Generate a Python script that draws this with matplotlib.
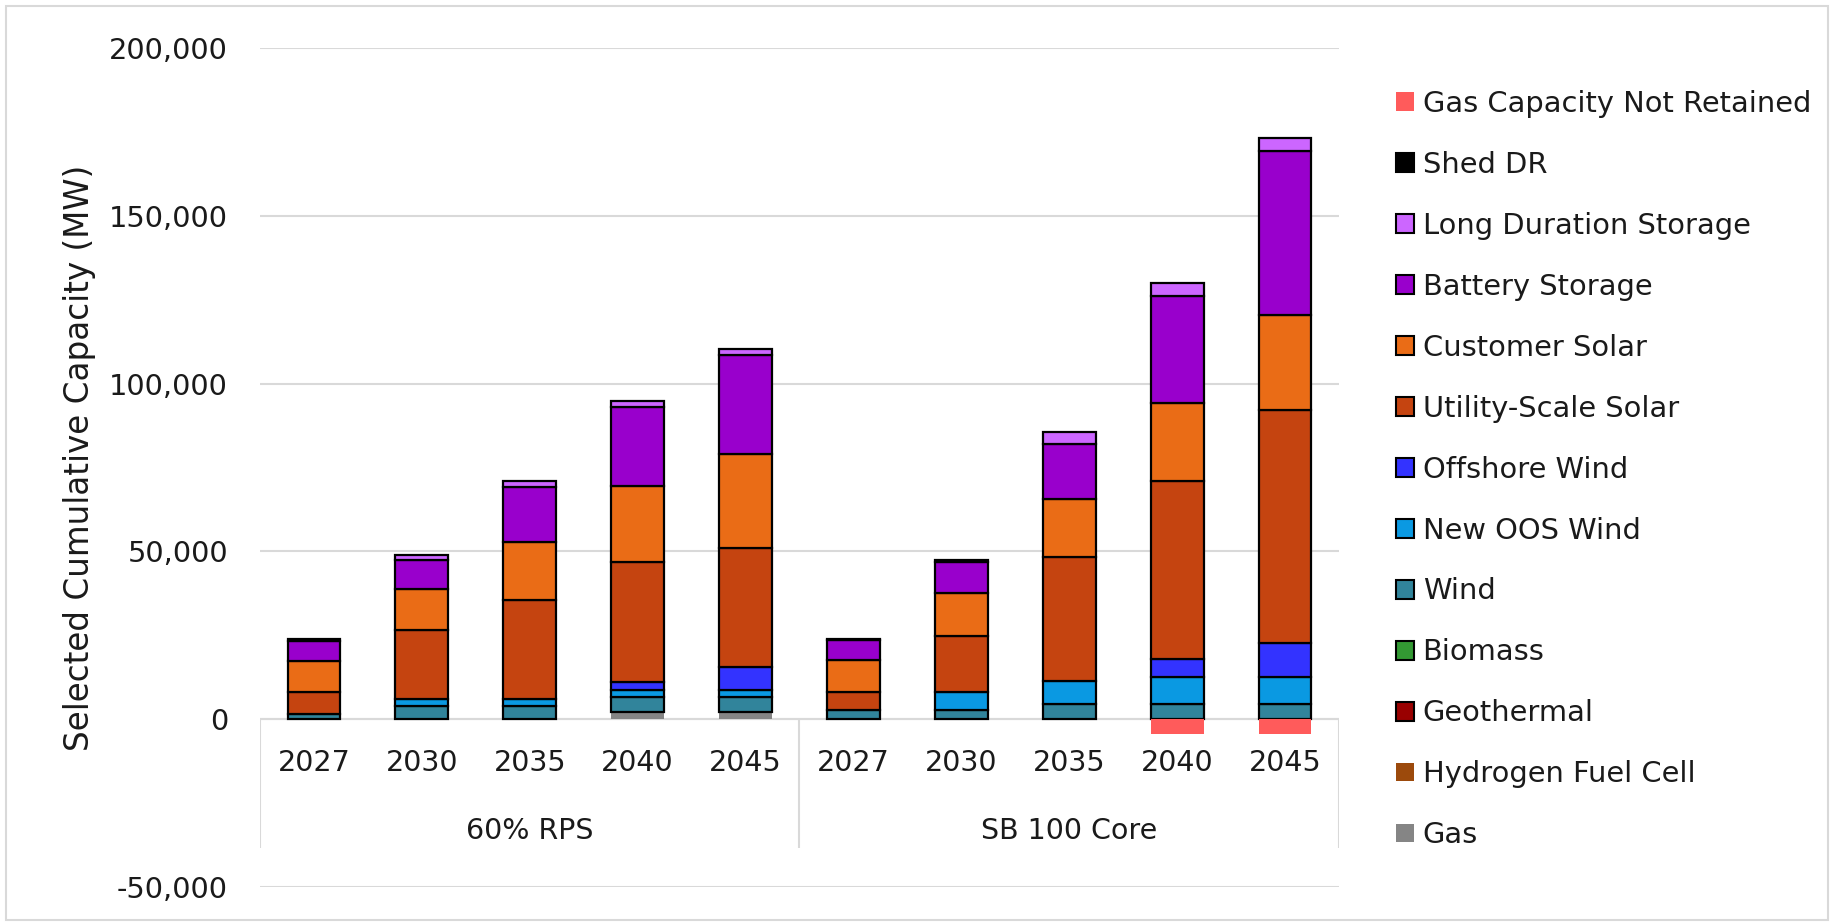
import matplotlib
matplotlib.use("Agg")
import matplotlib.pyplot as plt
from matplotlib.patches import Patch, Rectangle
import numpy as np

plt.rcParams['font.family'] = ['DejaVu Sans']

# ---------------- data ----------------
scenarios = ["60% RPS", "SB 100 Core"]
years = ["2027", "2030", "2035", "2040", "2045"]

gas              = [0, 0, 0, 2200, 2200,   0, 0, 0, 0, 0]
hydrogen         = [0, 0, 0, 0, 0,         0, 0, 0, 0, 0]
geothermal       = [0, 0, 0, 0, 0,         0, 0, 0, 0, 0]
biomass          = [0, 0, 0, 0, 0,         0, 0, 0, 0, 0]
wind             = [1600, 3900, 3900, 4400, 4400,   2700, 2800, 4400, 4400, 4400]
new_oos_wind     = [0, 2200, 2200, 2000, 2000,      0, 5300, 7100, 8200, 8200]
offshore_wind    = [0, 0, 0, 2500, 6900,            0, 0, 0, 5300, 10000]
utility_solar    = [6600, 20400, 29300, 35800, 35500,   5500, 16800, 36700, 53200, 69600]
customer_solar   = [9000, 12300, 17500, 22600, 28100,   9300, 12600, 17400, 23000, 28200]
battery          = [6000, 8600, 16300, 23500, 29300,    6100, 9200, 16500, 32000, 48800]
long_duration    = [0, 1400, 1800, 1800, 1800,          0, 0, 3600, 3900, 4100]
shed_dr          = [800, 0, 0, 0, 0,                    300, 800, 0, 0, 0]
gas_not_retained = [0, 0, 0, 0, 0,                      0, 0, 0, -4500, -4500]

series = [
    ("Gas", gas, "#858585", False),
    ("Hydrogen Fuel Cell", hydrogen, "#9C4A0C", False),
    ("Geothermal", geothermal, "#990000", True),
    ("Biomass", biomass, "#339933", True),
    ("Wind", wind, "#31849B", True),
    ("New OOS Wind", new_oos_wind, "#0A99E2", True),
    ("Offshore Wind", offshore_wind, "#3333FF", True),
    ("Utility-Scale Solar", utility_solar, "#C54410", True),
    ("Customer Solar", customer_solar, "#EA6C16", True),
    ("Battery Storage", battery, "#9900CC", True),
    ("Long Duration Storage", long_duration, "#CC66FF", True),
    ("Shed DR", shed_dr, "#000000", True),
]
neg_series = ("Gas Capacity Not Retained", gas_not_retained, "#FF5B5B", False)

# ---------------- figure ----------------
W, H = 1834, 924
fig = plt.figure(figsize=(W / 100, H / 100), dpi=100)
ax = fig.add_axes([260 / W, 1 - 887 / H, (1339 - 260) / W, (887 - 48) / H])

n = len(scenarios) * len(years)
x = np.arange(n)
bw = 0.49
bottom = np.zeros(n)
for name, vals, col, edged in series:
    v = np.array(vals, dtype=float)
    m = v > 0
    if m.any():
        ax.bar(x[m], v[m], bw, bottom=bottom[m], color=col,
               edgecolor="black" if edged else col,
               linewidth=1.6 if edged else 0, zorder=3)
    bottom += v
name, vals, col, _ = neg_series
v = np.array(vals, dtype=float)
m = v < 0
ax.bar(x[m], v[m], bw, color=col, linewidth=0, zorder=3)

ax.set_xlim(-0.5, n - 0.5)
ax.set_ylim(-50000, 200000)
ax.set_yticks(np.arange(-50000, 200001, 50000))
ax.set_yticklabels([f"{t:,}" for t in range(-50000, 200001, 50000)], fontsize=20.8)
ax.tick_params(axis="y", length=0, pad=23, labelcolor="#1a1a1a")
ax.tick_params(axis="x", length=0, labelbottom=False)
ax.grid(axis="y", color="#d9d9d9", linewidth=1.5, zorder=0)
for s in ax.spines.values():
    s.set_visible(False)

# category axis (Excel-style two-level)
ax.axhline(0, color="#d9d9d9", linewidth=1.5, zorder=2)
sep_bottom = -38500
ax.vlines([-0.5, 4.5, 9.5], sep_bottom, 0, color="#d9d9d9", linewidth=1.5, zorder=2)
for i in range(n):
    ax.text(x[i], -13200, years[i % len(years)], ha="center", va="center",
            fontsize=20.5, color="#1a1a1a")
for g, sc in enumerate(scenarios):
    ax.text(g * len(years) + (len(years) - 1) / 2, -33200, sc, ha="center",
            va="center", fontsize=20.5, color="#1a1a1a")

fig.text(80 / W, 1 - 458 / H, "Selected Cumulative Capacity (MW)", rotation=90,
         ha="center", va="center", fontsize=23.5, color="#1a1a1a")

# legend
handles = [Patch(facecolor=neg_series[2], edgecolor=neg_series[2], linewidth=0,
                 label=neg_series[0])]
for name, vals, col, edged in reversed(series):
    handles.append(Patch(facecolor=col, edgecolor="black" if edged else col,
                         linewidth=1.5 if edged else 0, label=name))
leg = fig.legend(handles=handles, loc="upper left",
                 bbox_to_anchor=(1396 / W, 1 - 90 / H), frameon=False,
                 fontsize=20.8, handlelength=0.62, handleheight=0.62,
                 handletextpad=0.3, labelspacing=1.14, borderaxespad=0,
                 borderpad=0)
for t in leg.get_texts():
    t.set_color("#1a1a1a")

# outer chart frame
fig.patches.append(Rectangle((6 / W, 4 / H), (W - 12) / W, (H - 10) / H,
                             transform=fig.transFigure, fill=False,
                             edgecolor="#d9d9d9", linewidth=1.5))

fig.savefig("out.png", dpi=100, facecolor="white")
